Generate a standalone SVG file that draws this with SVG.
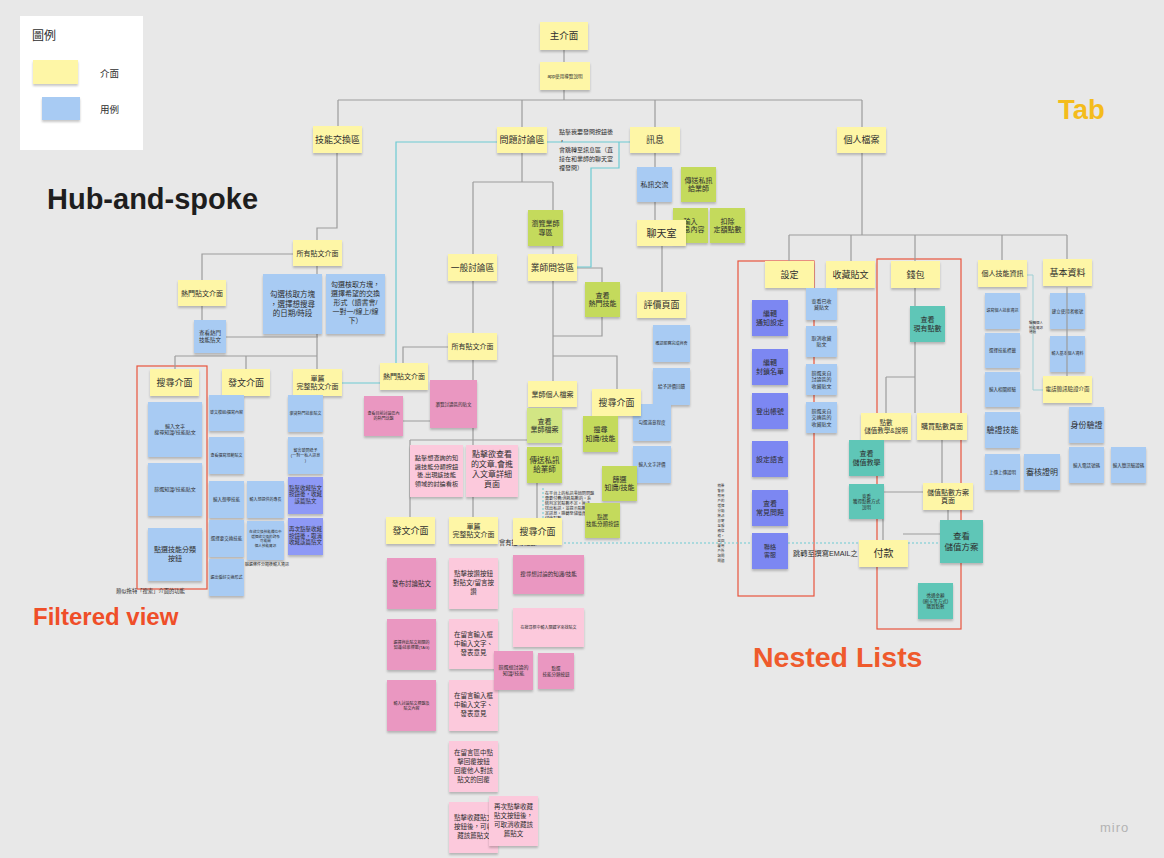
<svg xmlns="http://www.w3.org/2000/svg" width="1164" height="858" viewBox="0 0 1164 858">
<defs>
<filter id="sh" x="-20%" y="-20%" width="140%" height="150%"><feDropShadow dx="0" dy="2" stdDeviation="1.3" flood-color="#000" flood-opacity="0.22"/></filter>
<style>
text{font-family:"Liberation Sans","Noto Sans CJK TC",sans-serif;fill:#2e2e2e;text-anchor:middle}
.l{text-anchor:start}
.n{filter:url(#sh)}
.y{fill:#fef6a6}.b{fill:#a8cbf3}.g{fill:#c4da5b}.gl{fill:#d2e684}.p{fill:#ea97c1}.pl{fill:#fcc9dc}.v{fill:#7b87f2}.vl{fill:#8e99f6}.t{fill:#5ec6b7}
.c{fill:none;stroke:#9c9c9c;stroke-width:1.2}
.cy{fill:none;stroke:#6ccad2;stroke-width:1.2}
.rb{fill:none;stroke:#e8543c;stroke-width:1.2}
</style>
</defs>
<rect width="1164" height="858" fill="#e8e8e8"/>

<g id="labels">
<text class="l" x="47" y="209" style="font-size:29px;font-weight:bold;fill:#1e1e1e">Hub-and-spoke</text>
<text class="l" x="1058" y="119" style="font-size:27.5px;font-weight:bold;fill:#f4bc1c">Tab</text>
<text class="l" x="33" y="625" style="font-size:24px;font-weight:bold;fill:#ef4e28">Filtered view</text>
<text class="l" x="753" y="667" style="font-size:28.5px;font-weight:bold;fill:#ef5a2c">Nested Lists</text>
<text class="l" x="1100" y="832" style="font-size:13px;fill:#b3b3b3;letter-spacing:1px">miro</text>
</g>

<g id="legend">
<rect x="20" y="16" width="123" height="134" fill="#ffffff"/>
<text class="l" x="32" y="40" style="font-size:12px">圖例</text>
<rect class="n y" x="33" y="60" width="45" height="24"/>
<text class="l" x="100" y="77" style="font-size:9.5px">介面</text>
<rect class="n b" x="42" y="97" width="38" height="23"/>
<text class="l" x="100" y="113" style="font-size:9.5px">用例</text>
</g>

<g id="redboxes">
<rect class="rb" x="137" y="366" width="70" height="223"/>
<rect class="rb" x="738" y="261" width="76" height="335"/>
<rect class="rb" x="877" y="259" width="84" height="370"/>
</g>

<g id="connectors">
<path class="c" d="M564 50V62M564 90V100M338 100H862M338 100V126M522 100V127M655 100V127M862 100V127"/>
<path class="c" d="M337 153V228H317V240M293 254H202V280M202 306V320M226 337H318M317 266V356M175 356H317M175 356V369M246 356V369M317 356V369"/>
<path class="c" d="M522 153V182M473 182H553M473 182V254M553 182V254"/>
<path class="c" d="M577 268H602V282M602 317V336H553M553 281V381M553 356H617V389M537 483V518"/>
<path class="c" d="M473 281V333M448 347H403V363M473 360V440M410 440H527M410 440V517M473 440V517M403 421H430"/>
<path class="c" d="M655 153V220M662 246V292"/>
<path class="c" d="M862 153V235M789 235H1067M789 235V261M851 235V261M915 235V261M1002 235V260M1067 235V259"/>
<path class="c" d="M915 287V306M915 342V413M886 377H915M886 377V413M942 439V483M884 492H923M883 519V540M903 534H941M948 510V520"/>
<path class="cy" d="M630 142H396V363M342 383H380M628 142H619V168H591V267H577"/>
<path d="M1027 275H1033V390H1043" fill="none" stroke="#9fd0d4" stroke-width="1"/>
<path d="M543 488V543H942" fill="none" stroke="#6ccad2" stroke-width="1" stroke-dasharray="2 2"/>
</g>

<g id="notes-text">
<text class="l" x="559" y="134" style="font-size:6px">點擊我要發問按鈕後</text>
<text class="l" x="559" y="143" style="font-size:6px">，</text>
<text class="l" x="559" style="font-size:6px"><tspan x="559" y="152">會跳轉至訊息區（直</tspan><tspan x="559" y="161">接在和業師的聊天室</tspan><tspan x="559" y="170">裡發問）</tspan></text>
<text class="l" x="116" y="593" style="font-size:5.3px">類似拖特「搜索」介面的功能</text>
<text x="267" y="566" style="font-size:4px">篩選條件分類後輸入資訊</text>
<text class="l" x="499" y="545" style="font-size:6.3px">會有搜尋紀錄</text>
<text class="l" style="font-size:4.1px"><tspan x="545" y="495">在平台上的私訊業師問問題</tspan><tspan x="545" y="500">需要付費/消耗點數的，系</tspan><tspan x="545" y="505">統判定若點數不足，無法</tspan><tspan x="545" y="510">送出私訊，並提示點數不</tspan><tspan x="545" y="515">足訊息，跳轉至儲值頁面</tspan><tspan x="545" y="520">儲值點數</tspan></text>
<text class="l" x="793" y="556" style="font-size:7.2px">跳轉至撰寫EMAIL之</text>
<text style="font-size:3.4px"><tspan x="721" y="487">稍後</tspan><tspan x="721" y="492">會依</tspan><tspan x="721" y="497">照用</tspan><tspan x="721" y="502">戶的</tspan><tspan x="721" y="507">選擇</tspan><tspan x="721" y="512">分類</tspan><tspan x="721" y="517">將訊</tspan><tspan x="721" y="522">息寄</tspan><tspan x="721" y="527">至服</tspan><tspan x="721" y="532">務信</tspan><tspan x="721" y="537">箱，</tspan><tspan x="721" y="542">並回</tspan><tspan x="721" y="547">覆用</tspan><tspan x="721" y="552">戶所</tspan><tspan x="721" y="557">詢問</tspan><tspan x="721" y="562">問題</tspan></text>
<text class="l" style="font-size:3.5px"><tspan x="1029" y="324">編輯個人</tspan><tspan x="1029" y="328.5">技能資訊</tspan><tspan x="1029" y="333">通過</tspan></text>
</g>

<g id="n-main"><rect class="n y" x="540" y="22" width="48" height="28"/><text x="564" y="39.3" style="font-size:9.5px">主介面</text></g>
<g id="n-app"><rect class="n y" x="540" y="62" width="50" height="28"/><text x="565" y="77.6" style="font-size:4.6px">app使用導覽說明</text></g>
<g id="n-skill"><rect class="n y" x="313" y="126" width="49" height="27"/><text x="337.5" y="142.6" style="font-size:9px">技能交換區</text></g>
<g id="n-qa"><rect class="n y" x="497" y="127" width="50" height="26"/><text x="522" y="143" style="font-size:9px">問題討論區</text></g>
<g id="n-msg"><rect class="n y" x="630" y="127" width="50" height="26"/><text x="655" y="143" style="font-size:9px">訊息</text></g>
<g id="n-profile"><rect class="n y" x="837" y="127" width="49" height="26"/><text x="861.5" y="143" style="font-size:9px">個人檔案</text></g>

<g id="n-allpost1"><rect class="n y" x="293" y="240" width="49" height="26"/><text x="317.5" y="255.5" style="font-size:7px">所有貼文介面</text></g>
<g id="n-hot1"><rect class="n y" x="178" y="280" width="48" height="26"/><text x="202" y="295.5" style="font-size:7px">熱門貼文介面</text></g>
<g id="n-hotview"><rect class="n b" x="194" y="320" width="32" height="33"/><text style="font-size:5.5px"><tspan x="210" y="335">查看熱門</tspan><tspan x="210" y="341.9">技能貼文</tspan></text></g>
<g id="n-check1"><rect class="n b" x="263" y="274" width="59" height="60"/><text style="font-size:7.5px"><tspan x="292.5" y="297">勾選核取方塊</tspan><tspan x="292.5" y="306.5">，選擇想搜尋</tspan><tspan x="292.5" y="316">的日期/時段</tspan></text></g>
<g id="n-check2"><rect class="n b" x="326" y="274" width="59" height="60"/><text style="font-size:7px"><tspan x="355.5" y="286.5">勾選核取方塊，</tspan><tspan x="355.5" y="295.5">選擇希望的交換</tspan><tspan x="355.5" y="304.5">形式（讀書會/</tspan><tspan x="355.5" y="313.5">一對一/線上/線</tspan><tspan x="355.5" y="322.5">下）</tspan></text></g>

<g id="n-search1"><rect class="n y" x="150" y="369" width="49" height="27"/><text x="174.5" y="385.6" style="font-size:9px">搜尋介面</text></g>
<g id="n-post1"><rect class="n y" x="222" y="369" width="48" height="27"/><text x="246" y="385.6" style="font-size:9px">發文介面</text></g>
<g id="n-single1"><rect class="n y" x="293" y="369" width="49" height="27"/><text style="font-size:7px"><tspan x="317.5" y="380.6">單篇</tspan><tspan x="317.5" y="389.3">完整貼文介面</tspan></text></g>

<g id="n-s1a"><rect class="n b" x="148" y="402" width="54" height="55"/><text style="font-size:5px"><tspan x="175" y="428.1">輸入文字</tspan><tspan x="175" y="434.4">搜尋知識/技能貼文</tspan></text></g>
<g id="n-s1b"><rect class="n b" x="148" y="463" width="54" height="53"/><text x="175" y="491.3" style="font-size:5px">篩選知識/技能貼文</text></g>
<g id="n-s1c"><rect class="n b" x="148" y="528" width="54" height="53"/><text style="font-size:7px"><tspan x="175" y="552">點選技能分類</tspan><tspan x="175" y="561">按鈕</tspan></text></g>

<g id="n-p1a"><rect class="n b" x="209" y="395" width="35" height="36"/><text x="226.5" y="414.4" style="font-size:4px">發文模組/撰寫內容</text></g>
<g id="n-p1b"><rect class="n b" x="209" y="437" width="35" height="37"/><text x="226.5" y="456.9" style="font-size:4px">查看撰寫規範貼文</text></g>
<g id="n-p1c"><rect class="n b" x="209" y="481" width="35" height="37"/><text x="226.5" y="501" style="font-size:4.5px">輸入想學技能</text></g>
<g id="n-p1d"><rect class="n b" x="209" y="520" width="35" height="37"/><text x="226.5" y="540" style="font-size:4.5px">選擇要交換技能</text></g>
<g id="n-p1e"><rect class="n b" x="209" y="559" width="35" height="37"/><text x="226.5" y="579" style="font-size:4px">選出偏好交換形式</text></g>
<g id="n-p1f"><rect class="n b" x="247" y="481" width="37" height="37"/><text x="265.5" y="500.9" style="font-size:4px">輸入想提供的專長</text></g>
<g id="n-p1g"><rect class="n b" x="247" y="521" width="37" height="39"/><text style="font-size:3.6px"><tspan x="265.5" y="533">在欲交換技能欄位中</tspan><tspan x="265.5" y="537.5">選擇欲交換的對象</tspan><tspan x="265.5" y="542">可能開</tspan><tspan x="265.5" y="546.5">個人技能資訊</tspan></text></g>

<g id="n-d1a"><rect class="n b" x="288" y="395" width="35" height="37"/><text x="305.5" y="414.6" style="font-size:4px">瀏覽熱門技能貼文</text></g>
<g id="n-d1b"><rect class="n b" x="288" y="437" width="35" height="37"/><text style="font-size:4px"><tspan x="305.5" y="451.5">留言發問給予</tspan><tspan x="305.5" y="456.5">(一對一私人訊息</tspan><tspan x="305.5" y="461.5">)</tspan></text></g>
<g id="n-d1c"><rect class="n vl" x="288" y="477" width="35" height="37"/><text style="font-size:5.5px"><tspan x="305.5" y="489.5">點擊收藏貼文</tspan><tspan x="305.5" y="496">按鈕後，收藏</tspan><tspan x="305.5" y="502.5">該篇貼文</tspan></text></g>
<g id="n-d1d"><rect class="n vl" x="288" y="518" width="35" height="37"/><text style="font-size:5.5px"><tspan x="305.5" y="531">再次點擊收藏</tspan><tspan x="305.5" y="537.5">按鈕後，取消</tspan><tspan x="305.5" y="544">收藏該篇貼文</tspan></text></g>

<g id="n-general"><rect class="n y" x="448" y="254" width="49" height="27"/><text x="472.5" y="270.5" style="font-size:8.7px">一般討論區</text></g>
<g id="n-expertqa"><rect class="n y" x="528" y="254" width="49" height="27"/><text x="552.5" y="270.5" style="font-size:8.7px">業師問答區</text></g>
<g id="n-expertzone"><rect class="n g" x="528" y="210" width="35" height="36"/><text style="font-size:7px"><tspan x="545.5" y="226.1">瀏覽業師</tspan><tspan x="545.5" y="234.9">專區</tspan></text></g>
<g id="n-hotskill"><rect class="n g" x="585" y="282" width="35" height="35"/><text style="font-size:7px"><tspan x="602.5" y="297.6">查看</tspan><tspan x="602.5" y="306.4">熱門技能</tspan></text></g>
<g id="n-allpost2"><rect class="n y" x="448" y="333" width="49" height="27"/><text x="472.5" y="349" style="font-size:7px">所有貼文介面</text></g>
<g id="n-hot2"><rect class="n y" x="380" y="363" width="48" height="27"/><text x="404" y="379" style="font-size:7px">熱門貼文介面</text></g>
<g id="n-hottopic"><rect class="n p" x="364" y="396" width="39" height="40"/><text style="font-size:4px"><tspan x="383.5" y="415">查看目前討論區內</tspan><tspan x="383.5" y="420">的熱門話題</tspan></text></g>
<g id="n-browse"><rect class="n p" x="430" y="380" width="47" height="48"/><text x="453.5" y="405.6" style="font-size:4.5px">瀏覽討論區的貼文</text></g>
<g id="n-clickcat"><rect class="n pl" x="410" y="445" width="53" height="52"/><text style="font-size:6.2px"><tspan x="436.5" y="460">點擊想查詢的知</tspan><tspan x="436.5" y="468.7">識技能分類按鈕</tspan><tspan x="436.5" y="477.4">後,出現該技能</tspan><tspan x="436.5" y="486.1">領域的討論看板</tspan></text></g>
<g id="n-clickart"><rect class="n pl" x="466" y="445" width="52" height="52"/><text style="font-size:8px"><tspan x="492" y="456.5">點擊欲查看</tspan><tspan x="492" y="466.5">的文章,會進</tspan><tspan x="492" y="476.5">入文章詳細</tspan><tspan x="492" y="486.5">頁面</tspan></text></g>

<g id="n-chat"><rect class="n g" x="673" y="208" width="35" height="35"/><text style="font-size:7px"><tspan x="690.5" y="223.6">輸入</tspan><tspan x="690.5" y="232.4">訊息內容</tspan></text></g>
<g id="n-deduct"><rect class="n g" x="710" y="208" width="35" height="35"/><text style="font-size:7px"><tspan x="727.5" y="223.6">扣除</tspan><tspan x="727.5" y="232.4">定額點數</tspan></text></g>
<g id="n-pm"><rect class="n b" x="637" y="167" width="35" height="35"/><text x="654.5" y="187" style="font-size:7px">私訊交流</text></g>
<g id="n-pmsend"><rect class="n g" x="681" y="167" width="35" height="35"/><text style="font-size:7px"><tspan x="698.5" y="182.6">傳送私訊</tspan><tspan x="698.5" y="191.4">給業師</tspan></text></g>
<g id="n-chatroom"><rect class="n y" x="637" y="220" width="49" height="26"/><text x="661.5" y="236.5" style="font-size:10px">聊天室</text></g>
<g id="n-review"><rect class="n y" x="637" y="292" width="49" height="26"/><text x="661.5" y="308" style="font-size:9px">評價頁面</text></g>
<g id="n-r1"><rect class="n b" x="653" y="325" width="37" height="37"/><text x="671.5" y="345" style="font-size:4px">確認服務完成與否</text></g>
<g id="n-r2"><rect class="n b" x="653" y="368" width="37" height="37"/><text x="671.5" y="388" style="font-size:4.5px">給予評價回饋</text></g>
<g id="n-r3"><rect class="n b" x="633" y="404" width="38" height="37"/><text x="652" y="424" style="font-size:4.5px">勾選滿意程度</text></g>
<g id="n-r4"><rect class="n b" x="633" y="446" width="38" height="37"/><text x="652" y="466" style="font-size:4.5px">輸入文字評價</text></g>

<g id="n-expertprofile"><rect class="n y" x="528" y="381" width="49" height="26"/><text x="552.5" y="396.5" style="font-size:7px">業師個人檔案</text></g>
<g id="n-search2"><rect class="n y" x="592" y="389" width="49" height="27"/><text x="616.5" y="405.6" style="font-size:9px">搜尋介面</text></g>
<g id="n-viewexpert"><rect class="n gl" x="527" y="408" width="35" height="35"/><text style="font-size:7px"><tspan x="544.5" y="423.6">查看</tspan><tspan x="544.5" y="432.4">業師檔案</tspan></text></g>
<g id="n-sendexpert"><rect class="n g" x="527" y="447" width="35" height="36"/><text style="font-size:7.5px"><tspan x="544.5" y="463">傳送私訊</tspan><tspan x="544.5" y="472.4">給業師</tspan></text></g>
<g id="n-g1"><rect class="n g" x="583" y="416" width="35" height="36"/><text style="font-size:7px"><tspan x="600.5" y="432.1">搜尋</tspan><tspan x="600.5" y="440.9">知識/技能</tspan></text></g>
<g id="n-g2"><rect class="n g" x="602" y="466" width="35" height="35"/><text style="font-size:7px"><tspan x="619.5" y="481.6">篩選</tspan><tspan x="619.5" y="490.4">知識/技能</tspan></text></g>
<g id="n-g3"><rect class="n g" x="585" y="503" width="35" height="35"/><text style="font-size:5.5px"><tspan x="602.5" y="519">點選</tspan><tspan x="602.5" y="525.9">技能分類按鈕</tspan></text></g>

<g id="n-post2"><rect class="n y" x="386" y="517" width="49" height="27"/><text x="410.5" y="533.6" style="font-size:9px">發文介面</text></g>
<g id="n-single2"><rect class="n y" x="449" y="517" width="49" height="27"/><text style="font-size:7px"><tspan x="473.5" y="528.6">單篇</tspan><tspan x="473.5" y="537.3">完整貼文介面</tspan></text></g>
<g id="n-search3"><rect class="n y" x="513" y="518" width="49" height="27"/><text x="537.5" y="534.6" style="font-size:9px">搜尋介面</text></g>

<g id="n-k1"><rect class="n p" x="387" y="558" width="49" height="51"/><text x="411.5" y="585.8" style="font-size:6.5px">發布討論貼文</text></g>
<g id="n-k2"><rect class="n p" x="387" y="619" width="49" height="51"/><text style="font-size:4px"><tspan x="411.5" y="643.5">選擇與此貼文相關的</tspan><tspan x="411.5" y="648.5">知識/技能標籤(TAG)</tspan></text></g>
<g id="n-k3"><rect class="n p" x="387" y="680" width="49" height="51"/><text style="font-size:4px"><tspan x="411.5" y="704.5">輸入討論貼文標題及</tspan><tspan x="411.5" y="709.5">貼文內容</tspan></text></g>
<g id="n-m1"><rect class="n pl" x="449" y="558" width="49" height="51"/><text style="font-size:6.5px"><tspan x="473.5" y="576">點擊按讚按鈕</tspan><tspan x="473.5" y="585">對貼文/留言按</tspan><tspan x="473.5" y="594">讚</tspan></text></g>
<g id="n-m2"><rect class="n pl" x="449" y="619" width="49" height="50"/><text style="font-size:6.5px"><tspan x="473.5" y="637">在留言輸入框</tspan><tspan x="473.5" y="646">中輸入文字、</tspan><tspan x="473.5" y="655">發表意見</tspan></text></g>
<g id="n-m3"><rect class="n pl" x="449" y="680" width="49" height="51"/><text style="font-size:6.5px"><tspan x="473.5" y="698">在留言輸入框</tspan><tspan x="473.5" y="707">中輸入文字、</tspan><tspan x="473.5" y="716">發表意見</tspan></text></g>
<g id="n-m4"><rect class="n pl" x="449" y="741" width="49" height="51"/><text style="font-size:6.5px"><tspan x="473.5" y="755">在留言區中點</tspan><tspan x="473.5" y="764">擊回覆按鈕</tspan><tspan x="473.5" y="773">回覆他人對該</tspan><tspan x="473.5" y="782">貼文的回覆</tspan></text></g>
<g id="n-m5"><rect class="n pl" x="449" y="802" width="49" height="51"/><text style="font-size:6.5px"><tspan x="473.5" y="820">點擊收藏貼文</tspan><tspan x="473.5" y="829">按鈕後，可收</tspan><tspan x="473.5" y="838">藏該篇貼文</tspan></text></g>
<g id="n-m6"><rect class="n pl" x="489" y="796" width="49" height="50"/><text style="font-size:6.5px"><tspan x="513.5" y="809">再次點擊收藏</tspan><tspan x="513.5" y="818">貼文按鈕後，</tspan><tspan x="513.5" y="827">可取消收藏該</tspan><tspan x="513.5" y="836">篇貼文</tspan></text></g>
<g id="n-q1"><rect class="n p" x="513" y="555" width="71" height="39"/><text x="548.5" y="576.4" style="font-size:5.5px">搜尋想討論的知識/技能</text></g>
<g id="n-q2"><rect class="n pl" x="513" y="608" width="71" height="39"/><text x="548.5" y="629" style="font-size:4px">在搜尋框中輸入關鍵字來找貼文</text></g>
<g id="n-q3"><rect class="n p" x="494" y="651" width="39" height="39"/><text style="font-size:5px"><tspan x="513.5" y="669.1">篩選想討論的</tspan><tspan x="513.5" y="675.4">知識/技能</tspan></text></g>
<g id="n-q4"><rect class="n p" x="538" y="653" width="36" height="36"/><text style="font-size:4.5px"><tspan x="556" y="670">點選</tspan><tspan x="556" y="675.5">技能分類按鈕</tspan></text></g>

<g id="n-settings"><rect class="n y" x="765" y="261" width="49" height="27"/><text x="789.5" y="277.6" style="font-size:9px">設定</text></g>
<g id="n-fav"><rect class="n y" x="826" y="261" width="49" height="27"/><text x="850.5" y="277.6" style="font-size:9px">收藏貼文</text></g>
<g id="n-wallet"><rect class="n y" x="891" y="261" width="49" height="27"/><text x="915.5" y="277.6" style="font-size:9px">錢包</text></g>
<g id="n-set1"><rect class="n v" x="752" y="300" width="36" height="36"/><text style="font-size:7px"><tspan x="770" y="316.1">編輯</tspan><tspan x="770" y="324.9">通知設定</tspan></text></g>
<g id="n-set2"><rect class="n v" x="752" y="349" width="36" height="36"/><text style="font-size:7px"><tspan x="770" y="365.1">編輯</tspan><tspan x="770" y="373.9">封鎖名單</tspan></text></g>
<g id="n-set3"><rect class="n v" x="752" y="393" width="36" height="36"/><text x="770" y="413.5" style="font-size:7px">登出帳號</text></g>
<g id="n-set4"><rect class="n v" x="752" y="441" width="36" height="36"/><text x="770" y="461.5" style="font-size:7px">設定語言</text></g>
<g id="n-set5"><rect class="n v" x="752" y="490" width="36" height="36"/><text style="font-size:7px"><tspan x="770" y="506.1">查看</tspan><tspan x="770" y="514.9">常見問題</tspan></text></g>
<g id="n-set6"><rect class="n v" x="752" y="533" width="36" height="36"/><text style="font-size:6px"><tspan x="770" y="549.4">聯絡</tspan><tspan x="770" y="556.9">客服</tspan></text></g>
<g id="n-fav1"><rect class="n b" x="806" y="288" width="31" height="32"/><text style="font-size:5px"><tspan x="821.5" y="302.6">查看已收</tspan><tspan x="821.5" y="308.9">藏貼文</tspan></text></g>
<g id="n-fav2"><rect class="n b" x="806" y="326" width="31" height="31"/><text style="font-size:5px"><tspan x="821.5" y="340.1">取消收藏</tspan><tspan x="821.5" y="346.4">貼文</tspan></text></g>
<g id="n-fav3"><rect class="n b" x="806" y="364" width="31" height="31"/><text style="font-size:5px"><tspan x="821.5" y="375">篩選來自</tspan><tspan x="821.5" y="381.3">討論區的</tspan><tspan x="821.5" y="387.5">收藏貼文</tspan></text></g>
<g id="n-fav4"><rect class="n b" x="806" y="402" width="31" height="31"/><text style="font-size:5px"><tspan x="821.5" y="413">篩選來自</tspan><tspan x="821.5" y="419.3">交換區的</tspan><tspan x="821.5" y="425.5">收藏貼文</tspan></text></g>

<g id="n-w1"><rect class="n t" x="910" y="306" width="35" height="36"/><text style="font-size:7px"><tspan x="927.5" y="322.1">查看</tspan><tspan x="927.5" y="330.9">現有點數</tspan></text></g>
<g id="n-pointsinfo"><rect class="n y" x="861" y="413" width="50" height="27"/><text style="font-size:6.5px"><tspan x="886" y="424.7">點數</tspan><tspan x="886" y="432.8">儲值教學&amp;說明</tspan></text></g>
<g id="n-buy"><rect class="n y" x="917" y="413" width="50" height="27"/><text x="942" y="429" style="font-size:7px">購買點數頁面</text></g>
<g id="n-w2"><rect class="n t" x="849" y="440" width="35" height="36"/><text style="font-size:7px"><tspan x="866.5" y="456.1">查看</tspan><tspan x="866.5" y="464.9">儲值教學</tspan></text></g>
<g id="n-w3"><rect class="n t" x="849" y="484" width="35" height="35"/><text style="font-size:4.5px"><tspan x="866.5" y="497.5">查看</tspan><tspan x="866.5" y="503.1">獲得點數方式</tspan><tspan x="866.5" y="508.7">說明</tspan></text></g>
<g id="n-plan"><rect class="n y" x="923" y="483" width="50" height="27"/><text style="font-size:7px"><tspan x="948" y="494.6">儲值點數方案</tspan><tspan x="948" y="503.3">頁面</tspan></text></g>
<g id="n-w4"><rect class="n t" x="940" y="520" width="43" height="43"/><text style="font-size:8.5px"><tspan x="961.5" y="539.2">查看</tspan><tspan x="961.5" y="549.8">儲值方案</tspan></text></g>
<g id="n-pay"><rect class="n y" x="859" y="540" width="49" height="27"/><text x="883.5" y="557" style="font-size:10px">付款</text></g>
<g id="n-w5"><rect class="n t" x="918" y="583" width="35" height="36"/><text style="font-size:4.5px"><tspan x="935.5" y="596.9">透過金額</tspan><tspan x="935.5" y="602.5">(刷卡等方式)</tspan><tspan x="935.5" y="608.1">購買點數</tspan></text></g>

<g id="n-skillinfo"><rect class="n y" x="978" y="260" width="49" height="27"/><text x="1002.5" y="276" style="font-size:7px">個人技能資訊</text></g>
<g id="n-basic"><rect class="n y" x="1043" y="259" width="49" height="27"/><text x="1067.5" y="275.6" style="font-size:9px">基本資料</text></g>
<g id="n-i1"><rect class="n b" x="985" y="293" width="35" height="36"/><text x="1002.5" y="312.4" style="font-size:4px">填寫個人技能資訊</text></g>
<g id="n-i2"><rect class="n b" x="985" y="333" width="35" height="35"/><text x="1002.5" y="352" style="font-size:4.5px">選擇技能標籤</text></g>
<g id="n-i3"><rect class="n b" x="985" y="372" width="35" height="35"/><text x="1002.5" y="391" style="font-size:4.5px">輸入相關經驗</text></g>
<g id="n-i4"><rect class="n b" x="985" y="412" width="35" height="36"/><text x="1002.5" y="432.8" style="font-size:8px">驗證技能</text></g>
<g id="n-i5"><rect class="n b" x="985" y="454" width="35" height="36"/><text x="1002.5" y="473.6" style="font-size:4.5px">上傳上傳證明</text></g>
<g id="n-i6"><rect class="n b" x="1024" y="454" width="36" height="36"/><text x="1042" y="474.8" style="font-size:8px">審核證明</text></g>
<g id="n-b1"><rect class="n b" x="1050" y="293" width="35" height="36"/><text x="1067.5" y="312.6" style="font-size:4.5px">建立使用者帳號</text></g>
<g id="n-b2"><rect class="n b" x="1050" y="336" width="35" height="36"/><text x="1067.5" y="355.4" style="font-size:4px">輸入基本個人資料</text></g>
<g id="n-basicline"><path class="c" d="M1067 287V376"/></g>
<g id="n-sms"><rect class="n y" x="1043" y="376" width="49" height="27"/><text x="1067.5" y="391.4" style="font-size:5.5px">電話簡訊驗證介面</text></g>
<g id="n-b3"><rect class="n b" x="1069" y="407" width="35" height="36"/><text x="1086.5" y="427.8" style="font-size:8px">身份驗證</text></g>
<g id="n-b4"><rect class="n b" x="1069" y="447" width="35" height="36"/><text x="1086.5" y="466.6" style="font-size:4.5px">輸入電話號碼</text></g>
<g id="n-b5"><rect class="n b" x="1111" y="447" width="35" height="36"/><text x="1128.5" y="466.6" style="font-size:4.5px">輸入簡訊驗證碼</text></g>
</svg>
